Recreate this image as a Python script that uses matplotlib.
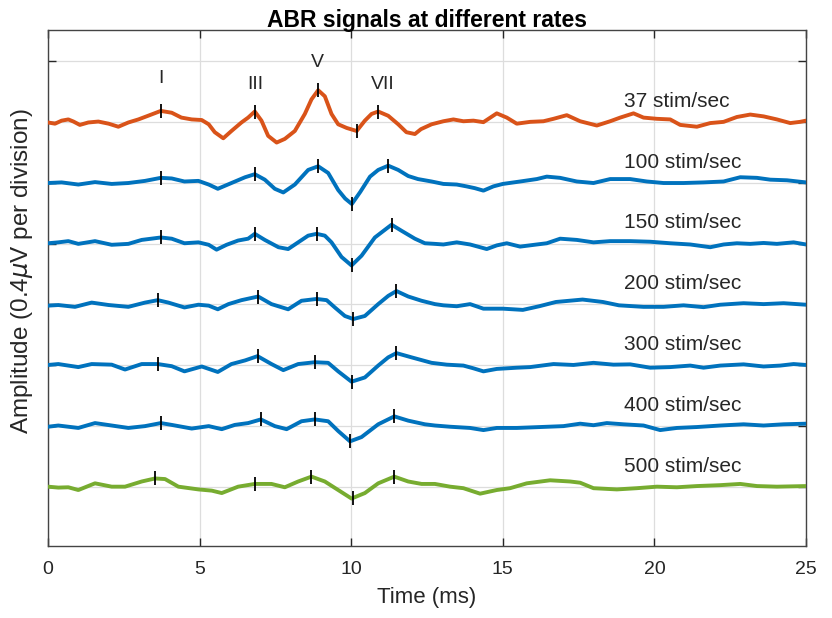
import numpy as np
import matplotlib.pyplot as plt

# amplitudes in divisions (0.4 uV each), relative to each trace baseline
t37 = [0, 0.23, 0.45, 0.67, 0.84, 1.05, 1.33, 1.66, 2.0, 2.32, 2.65, 2.98, 3.3, 3.72, 4.08, 4.4, 4.74,
       5.07, 5.3, 5.5, 5.78, 6.05, 6.38, 6.6, 6.82, 7.04, 7.26, 7.54, 7.81, 8.14, 8.47, 8.69, 8.91,
       9.13, 9.35, 9.57, 9.85, 10.18, 10.45, 10.67, 10.89, 11.22, 11.55, 11.82, 12.1, 12.3, 12.65,
       13.04, 13.37, 13.7, 14.03, 14.36, 14.8, 15.13, 15.46, 15.9, 16.34, 16.67, 17.11, 17.55, 18.1,
       18.54, 18.87, 19.31, 19.64, 20.08, 20.52, 20.85, 21.4, 21.84, 22.28, 22.72, 23.16, 23.6,
       24.04, 24.48, 24.8, 25.0]
a37 = [-0.01, -0.03, 0.02, 0.04, 0.005, -0.05, -0.01, 0.005, -0.03, -0.08, -0.01, 0.04, 0.1, 0.18,
       0.15, 0.07, 0.04, 0.03, -0.04, -0.17, -0.27, -0.15, -0.01, 0.07, 0.17, 0.02, -0.23, -0.34,
       -0.28, -0.15, 0.13, 0.37, 0.52, 0.42, 0.13, -0.04, -0.1, -0.15, 0.02, 0.13, 0.17, 0.1, -0.04,
       -0.17, -0.2, -0.12, -0.04, 0.01, 0.04, 0.01, 0.02, -0.005, 0.14, 0.07, -0.03, 0.0, 0.01, 0.05,
       0.11, 0.01, -0.06, 0.01, 0.07, 0.14, 0.07, 0.05, 0.04, -0.05, -0.08, -0.02, 0.0, 0.08, 0.12,
       0.09, 0.04, -0.02, 0.0, 0.02]

t100 = [0, 0.45, 1.0, 1.55, 2.1, 2.65, 3.2, 3.72, 4.08, 4.5, 4.96, 5.3, 5.6, 6.05, 6.5, 6.82, 7.15,
        7.48, 7.76, 8.14, 8.58, 8.91, 9.24, 9.57, 9.8, 10.02, 10.3, 10.62, 10.89, 11.22, 11.55, 11.88,
        12.2, 12.65, 13.04, 13.48, 13.8, 14.08, 14.36, 14.69, 15.0, 15.57, 16.12, 16.45, 16.89, 17.44,
        17.99, 18.54, 19.2, 19.75, 20.3, 20.96, 21.62, 22.28, 22.83, 23.38, 23.82, 24.37, 25.0]
a100 = [-0.005, 0.005, -0.03, 0.01, -0.02, -0.005, 0.03, 0.08, 0.07, 0.02, 0.03, -0.03, -0.1,
        -0.005, 0.09, 0.14, 0.05, -0.1, -0.16, -0.03, 0.21, 0.27, 0.16, -0.12, -0.26, -0.35, -0.15,
        0.1, 0.21, 0.28, 0.21, 0.11, 0.06, 0.02, -0.02, -0.03, -0.06, -0.09, -0.13, -0.06, -0.02,
        0.02, 0.06, 0.1, 0.08, 0.02, -0.005, 0.06, 0.06, 0.02, -0.005, -0.005, 0.005, 0.02, 0.09,
        0.08, 0.05, 0.04, 0.005]

t150 = [0, 0.34, 0.67, 1.0, 1.55, 2.1, 2.65, 3.09, 3.72, 4.08, 4.5, 4.96, 5.3, 5.56, 5.89, 6.27, 6.6,
        6.82, 7.15, 7.6, 7.92, 8.25, 8.58, 8.86, 9.13, 9.35, 9.68, 10.01, 10.34, 10.78, 11.33, 11.66,
        12.1, 12.43, 12.76, 13.04, 13.48, 13.92, 14.47, 14.8, 15.13, 15.57, 16.12, 16.45, 16.89, 17.44,
        17.99, 18.54, 19.2, 19.86, 20.52, 21.18, 21.84, 22.28, 22.72, 23.16, 23.6, 24.04, 24.59, 25.0]
a150 = [0.005, 0.02, 0.04, -0.005, 0.04, -0.02, -0.005, 0.06, 0.1, 0.08, 0.005, 0.02, -0.02, -0.1,
        -0.02, 0.05, 0.08, 0.16, 0.06, -0.06, -0.09, 0.02, 0.13, 0.16, 0.13, 0.02, -0.22, -0.36, -0.2,
        0.1, 0.31, 0.21, 0.08, 0.005, -0.005, -0.015, 0.02, -0.015, -0.09, -0.03, 0.005, -0.05, -0.015,
        0.005, 0.08, 0.06, 0.02, 0.04, 0.04, 0.03, 0.005, -0.015, -0.06, -0.015, 0.005, -0.005, 0.01,
        -0.005, 0.02, -0.015]

t200 = [0, 0.34, 0.89, 1.44, 2.0, 2.65, 3.2, 3.62, 3.97, 4.5, 4.96, 5.3, 5.6, 5.95, 6.38, 6.93, 7.37,
        7.92, 8.36, 8.86, 9.19, 9.46, 9.79, 10.07, 10.45, 10.89, 11.22, 11.49, 11.88, 12.32, 12.76,
        13.04, 13.48, 13.92, 14.36, 15.0, 15.66, 16.2, 16.75, 17.63, 18.3, 18.83, 19.64, 20.3, 20.96,
        21.62, 22.17, 22.94, 23.6, 24.26, 25.0]
a200 = [-0.02, -0.01, -0.04, 0.03, -0.01, -0.04, 0.03, 0.07, 0.03, -0.05, -0.005, -0.02, -0.08,
        0.005, 0.07, 0.13, 0.005, -0.08, 0.06, 0.09, 0.07, -0.05, -0.19, -0.24, -0.19, 0.005, 0.14,
        0.22, 0.13, 0.06, 0.005, -0.015, -0.03, 0.005, -0.07, -0.07, -0.09, -0.03, 0.04, 0.08, 0.04,
        -0.015, -0.04, -0.04, -0.015, -0.045, -0.005, 0.02, 0.005, 0.02, -0.005]

t300 = [0, 0.34, 1.0, 1.44, 2.1, 2.54, 3.09, 3.62, 4.08, 4.5, 5.07, 5.6, 6.05, 6.5, 6.91, 7.37, 7.76,
        8.25, 8.8, 9.24, 9.57, 10.01, 10.45, 10.89, 11.22, 11.49, 11.99, 12.65, 13.15, 13.7, 14.03,
        14.36, 14.8, 15.46, 15.9, 16.67, 17.33, 17.99, 18.65, 19.2, 19.86, 20.52, 21.18, 21.62, 22.17,
        22.94, 23.6, 24.15, 24.59, 25.0]
a300 = [0.005, 0.02, -0.03, 0.02, 0.01, -0.07, 0.02, 0.02, -0.015, -0.1, -0.02, -0.11, 0.02, 0.08,
        0.15, 0.02, -0.08, 0.02, 0.05, 0.04, -0.1, -0.27, -0.2, -0.005, 0.13, 0.2, 0.13, 0.04, 0.01,
        -0.005, -0.05, -0.1, -0.06, -0.04, -0.03, 0.02, 0.005, 0.04, 0.01, 0.015, -0.04, -0.03, -0.005,
        -0.04, -0.005, 0.015, -0.02, -0.005, 0.02, 0.005]

t400 = [0, 0.34, 1.0, 1.55, 2.1, 2.65, 3.2, 3.72, 4.08, 4.74, 5.3, 5.73, 6.16, 6.6, 7.02, 7.48, 7.87,
        8.36, 8.8, 9.24, 9.57, 9.96, 10.34, 10.89, 11.42, 11.88, 12.43, 12.76, 13.26, 13.92, 14.36,
        14.8, 15.46, 16.23, 17.0, 17.55, 17.99, 18.43, 18.98, 19.64, 20.19, 20.74, 21.4, 22.17, 22.94,
        23.6, 24.26, 25.0]
a400 = [-0.01, 0.01, -0.03, 0.05, 0.01, -0.03, 0.0, 0.05, 0.02, -0.04, 0.0, -0.05, 0.02, 0.05, 0.11,
        0.0, -0.05, 0.08, 0.11, 0.08, -0.08, -0.25, -0.18, 0.03, 0.16, 0.09, 0.03, 0.01, -0.01, -0.03,
        -0.065, -0.03, -0.03, -0.015, 0.0, 0.04, 0.015, 0.05, 0.03, 0.01, -0.065, -0.03, -0.015, 0.01,
        0.03, 0.01, 0.03, 0.04]

t500 = [0, 0.34, 0.67, 1.0, 1.55, 2.1, 2.54, 3.09, 3.53, 3.86, 4.3, 4.96, 5.4, 5.73, 6.27, 6.82, 7.37,
        7.81, 8.25, 8.69, 9.13, 9.57, 10.01, 10.45, 10.89, 11.42, 11.88, 12.32, 12.76, 13.26, 13.7,
        14.25, 14.8, 15.24, 15.79, 16.56, 17.22, 17.55, 17.99, 18.76, 19.42, 20.08, 20.74, 21.4, 22.17,
        22.83, 23.38, 24.04, 25.0]
a500 = [0.005, -0.01, -0.005, -0.05, 0.06, 0.005, 0.005, 0.09, 0.14, 0.13, 0.005, -0.04, -0.06, -0.1,
        0.005, 0.05, 0.05, -0.005, 0.09, 0.17, 0.09, -0.05, -0.19, -0.1, 0.06, 0.17, 0.09, 0.05, 0.05,
        0.005, -0.02, -0.11, -0.05, -0.02, 0.06, 0.11, 0.09, 0.07, -0.02, -0.04, -0.02, 0.005, -0.005,
        0.015, 0.03, 0.05, 0.015, 0.005, 0.015]

# peak picks (ms): I, III, V, trough, VII
pk37 = [3.72, 6.82, 8.91, 10.18, 10.89]
pk100 = [3.72, 6.82, 8.91, 10.02, 11.22]
pk150 = [3.72, 6.82, 8.86, 10.01, 11.33]
pk200 = [3.62, 6.93, 8.86, 10.05, 11.49]
pk300 = [3.62, 6.91, 8.8, 10.03, 11.49]
pk400 = [3.72, 7.02, 8.8, 9.96, 11.42]
pk500 = [3.53, 6.82, 8.69, 10.07, 11.42]

rates = ['37 stim/sec', '100 stim/sec', '150 stim/sec', '200 stim/sec',
         '300 stim/sec', '400 stim/sec', '500 stim/sec']
baselines = [6, 5, 4, 3, 2, 1, 0]
wave_names = ['I', 'III', 'V', 'VII']
wave_x = [3.72, 6.83, 8.9, 11.05]
wave_y = [6.72, 6.61, 6.98, 6.61]

orange = '#D95319'
blue = '#0072BD'
green = '#77AC30'
colors = [orange, blue, blue, blue, blue, blue, green]

times = [t37, t100, t150, t200, t300, t400, t500]
amps = [a37, a100, a150, a200, a300, a400, a500]
peaks = [pk37, pk100, pk150, pk200, pk300, pk400, pk500]

plt.rcParams['font.family'] = ['Liberation Sans', 'DejaVu Sans']

fig = plt.figure(figsize=(8.32, 6.18), dpi=100)
ax = fig.add_axes([0.0577, 0.1165, 0.9111, 0.835])

for t, a, pk, base, col, lab in zip(times, amps, peaks, baselines, colors, rates):
    y = np.array(a) + base
    ax.plot(t, y, color=col, lw=2.8, solid_capstyle='round', solid_joinstyle='round', zorder=3)
    #tick marks sit on the curve
    ax.plot(pk, np.interp(pk, t, y), ls='none', marker='|', ms=10, mew=1.3, color='black', zorder=4)
    ax.text(19.0, base + 0.34, lab, fontsize=15, ha='left', va='center', color='#262626')

for name, x, y in zip(wave_names, wave_x, wave_y):
    ax.text(x, y, name, fontsize=14, ha='center', va='center', color='#262626')

ax.set_xlim(0, 25)
ax.set_ylim(-0.97, 7.51)
ax.set_xticks([0, 5, 10, 15, 20, 25])
ax.set_yticks(range(0, 8))
ax.set_yticklabels([])
ax.grid(True, color='#dddddd', lw=0.9, zorder=0)
ax.tick_params(axis='both', direction='in', length=6, width=1, top=True, right=True,
               labelsize=14, colors='#262626', pad=11)
for s in ax.spines.values():
    s.set_color('#444444')
    s.set_linewidth(1.0)

ax.set_xlabel('Time (ms)', fontsize=16, color='#262626', labelpad=6)
ax.set_ylabel(r'Amplitude (0.4$\mu$V per division)', fontsize=17.5, color='#262626', va='center')
ax.yaxis.set_label_coords(-0.034, 0.533)
ax.set_title('ABR signals at different rates', fontsize=16.5, fontweight='bold', pad=2)

fig.savefig('out.png', dpi=100)
